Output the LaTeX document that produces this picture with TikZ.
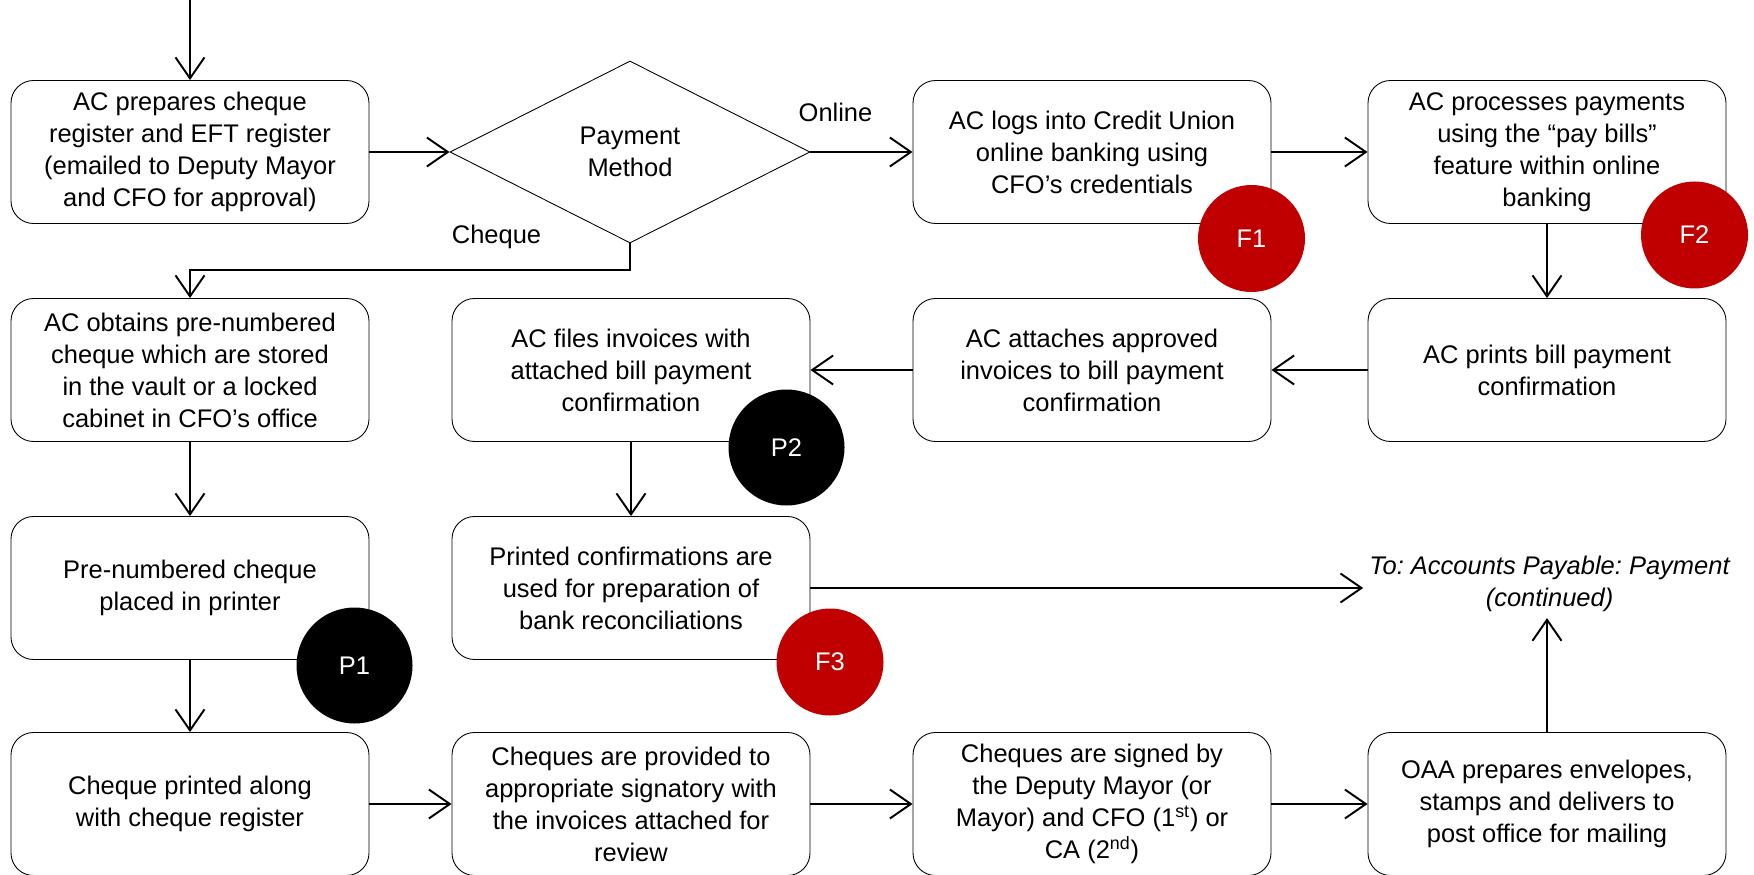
\documentclass[tikz,border=0pt]{standalone}
\usepackage{fontspec}
\setmainfont{Liberation Sans}
\usetikzlibrary{arrows.meta,shapes.geometric}

\definecolor{ctrlred}{RGB}{192,0,0}
\frenchspacing

\begin{document}
\begin{tikzpicture}[
	font=\fontsize{14.5}{18.2}\selectfont,
	stepbox/.style={draw, line width=0.5pt, rounded corners=0.45cm, minimum width=7.16cm, minimum height=2.86cm, align=center, inner sep=0pt},
	flow/.style={line width=1.1pt, -{Straight Barb[length=4.2mm,width=5.8mm]}},
	plain/.style={inner sep=0pt}
]

%\markcircle{name}{pos}{colour}{size}{text}
\newcommand*{\markcircle}[5]{%
	\node [circle, fill=#3, text=white, minimum size=#4, inner sep=0pt] (#1) at (#2) {#5};
}

\def\colA{3.8}
\def\colB{12.62}
\def\colC{21.84}
\def\colD{30.94}

\def\rowA{-3.04}
\def\rowB{-7.40}
\def\rowC{-11.76}
\def\rowD{-16.08}

\useasboundingbox (0,0) rectangle (35.08,-17.5);

% top row
\coordinate (start) at (\colA,0);
\node [stepbox] (prep) at (\colA,\rowA) {AC prepares cheque\\register and EFT register\\(emailed to Deputy Mayor\\and CFO for approval)};
\node [draw, line width=0.5pt, diamond, aspect=2, align=center, minimum width=7.2cm, minimum height=3.64cm, inner sep=0pt] (method) at (12.6,\rowA) {Payment\\Method};
\node [stepbox] (login) at (\colC,\rowA) {AC logs into Credit Union\\online banking using\\CFO’s credentials};
\node [stepbox] (process) at (\colD,\rowA) {AC processes payments\\using the “pay bills”\\feature within online\\banking};

% second row
\node [stepbox] (obtain) at (\colA,\rowB) {AC obtains pre-numbered\\cheque which are stored\\in the vault or a locked\\cabinet in CFO’s office};
\node [stepbox] (files) at (\colB,\rowB) {AC files invoices with\\attached bill payment\\confirmation};
\node [stepbox] (attach) at (\colC,\rowB) {AC attaches approved\\invoices to bill payment\\confirmation};
\node [stepbox] (print) at (\colD,\rowB) {AC prints bill payment\\confirmation};

% third row
\node [stepbox] (placed) at (\colA,\rowC) {Pre-numbered cheque\\placed in printer};
\node [stepbox] (recon) at (\colB,\rowC) {Printed confirmations are\\used for preparation of\\bank reconciliations};
\node [align=center, font=\fontsize{14.5}{18.2}\selectfont\itshape] (cont) at (30.99,-11.68) {To: Accounts Payable: Payment\\(continued)};

% bottom row
\node [stepbox] (printed) at (\colA,\rowD) {Cheque printed along\\with cheque register};
\node [stepbox] (provide) at (\colB,\rowD) {Cheques are provided to\\appropriate signatory with\\the invoices attached for\\review};
\node [stepbox] (signed) at (\colC,\rowD) {Cheques are signed by\\the Deputy Mayor (or\\Mayor) and CFO (1\textsuperscript{st}) or\\CA (2\textsuperscript{nd})};
\node [stepbox] (mail) at (\colD,\rowD) {OAA prepares envelopes,\\stamps and delivers to\\post office for mailing};

% branch labels
\node [plain] (online) at (16.71,-2.24) {Online};
\node [plain] (cheque) at (9.93,-4.74) {Cheque};

% arrows
\draw [flow] (start) -- (prep);
\draw [flow] (prep) -- (method);
\draw [flow] (method) -- (login);
\draw [flow] (login) -- (process);
\draw [flow] (method.south) -- ++(0,-0.54) -| (obtain.north);
\draw [flow] (process) -- (print);
\draw [flow] (print) -- (attach);
\draw [flow] (attach) -- (files);
\draw [flow] (files) -- (recon);
\draw [flow] (obtain) -- (placed);
\draw [flow] (placed) -- (printed);
\draw [flow] (recon.east) -- (recon.east -| cont.west);
\draw [flow] (printed) -- (provide);
\draw [flow] (provide) -- (signed);
\draw [flow] (signed) -- (mail);
\draw [flow] (mail.north) -- (mail.north |- cont.south);

% control markers
\markcircle{f1}{25.03,-4.77}{ctrlred}{2.14cm}{F1}
\markcircle{f2}{33.89,-4.70}{ctrlred}{2.14cm}{F2}
\markcircle{p2}{15.73,-8.95}{black}{2.32cm}{P2}
\markcircle{p1}{7.09,-13.31}{black}{2.32cm}{P1}
\markcircle{f3}{16.6,-13.24}{ctrlred}{2.14cm}{F3}

\end{tikzpicture}
\end{document}
